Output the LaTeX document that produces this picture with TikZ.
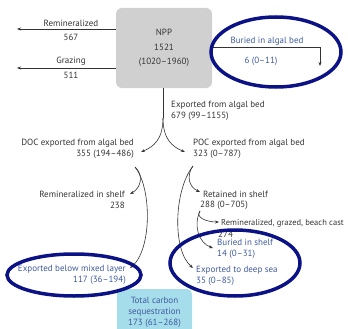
\documentclass[tikz,border=0pt]{standalone}
\usepackage{fontspec}
\setmainfont{PT Sans}
\usepackage{xcolor}
\usetikzlibrary{arrows.meta}
\definecolor{txtgray}{HTML}{333333}
\definecolor{txtblue}{HTML}{3F5A9E}
\definecolor{ringblue}{HTML}{0B1285}
\definecolor{boxgray}{HTML}{D0D0D0}
\definecolor{boxcyan}{HTML}{A6DDEA}

\begin{document}
\begin{tikzpicture}[x=1pt,y=-1pt,>={Stealth[length=4pt,width=3pt]},
  every node/.style={font=\fontsize{9}{11}\selectfont,text=txtgray,inner sep=0pt},
  flow/.style={->,draw=txtgray,line width=0.6pt},
  ring/.style={draw=ringblue,line width=3.5pt},
  hot/.style={text=txtblue}]
\useasboundingbox (0,0) rectangle (348,329);
% source box
\node[fill=boxgray,rounded corners=6pt,minimum width=96pt,minimum height=80pt,
  align=center,font=\fontsize{9}{14.5}\selectfont] (npp) at (164,48) {NPP\\1521\\(1020--1960)};
% losses to the left
\coordinate (reminTip) at (17,29);
\coordinate (grazTip) at (17,68);
\draw[flow](npp.west |- reminTip)--(reminTip);
\draw[flow](npp.west |- grazTip)--(grazTip);
\node (remin) at (71,23) {Remineralized};
\node (reminVal) at (71,37) {567};
\node (graz) at (71,61) {Grazing};
\node (grazVal) at (71,75) {511};
% burial in the bed
\coordinate (algTip) at (320,66);
\draw[flow]([yshift=1pt]npp.east)-|(algTip);
\node[hot] (alg) at (267,41) {Buried in algal bed};
\node[hot] (algVal) at (261,61) {6 (0--11)};
% export split
\coordinate (split) at (163,118);
\coordinate (docTip) at (141,152);
\coordinate (pocTip) at (185,152);
\draw[txtgray,line width=0.6pt](npp.south -| split)--(split);
\draw[flow](split)..controls(163,140)and(153,147)..(docTip);
\draw[flow](split)..controls(163,140)and(173,147)..(pocTip);
\node[anchor=west,align=left] (exp) at (171,111) {Exported from algal bed\\679 (99--1155)};
\node[anchor=east,align=right] (doc) at (134,149) {DOC exported from algal bed\\355 (194--486)};
\node[anchor=west,align=left] (poc) at (193,148.5) {POC exported from algal bed\\323 (0--787)};
% DOC branch
\coordinate (docOut) at (135,167);
\coordinate (shelfTip) at (130,194);
\coordinate (belowTip) at (130,268);
\draw[flow](docOut)..controls(144,175)and(141,188)..(shelfTip);
\draw[flow](docOut)..controls(152,188)and(152,250)..(belowTip);
\node[anchor=east] (remShelf) at (125,194) {Remineralized in shelf};
\node[anchor=east] (remShelfVal) at (125,205) {238};
\node[anchor=east,align=right,hot] (below) at (126,275) {Exported below mixed layer\\117 (36--194)};
% POC branch
\coordinate (pocOut) at (193,166);
\coordinate (retTip) at (200,192);
\coordinate (deepTip) at (193,268);
\draw[flow](pocOut)..controls(186,176)and(189,187)..(retTip);
\draw[flow](pocOut)..controls(174,190)and(172,250)..(deepTip);
\node[anchor=west] (ret) at (203,194) {Retained in shelf};
\node[anchor=west] (retVal) at (200,205) {288 (0--705)};
\node[anchor=west,align=left,hot] (deep) at (196,275.5) {Exported to deep sea\\35 (0--85)};
% retained split
\coordinate (retOut) at (200,211);
\coordinate (castTip) at (219,222);
\coordinate (shelfBurTip) at (213,248);
\draw[flow](retOut)..controls(195,217)and(206,222)..(castTip);
\draw[flow](retOut)..controls(193,226)and(199,243)..(shelfBurTip);
\node[anchor=west,font=\fontsize{8.5}{11}\selectfont] (cast) at (221,223) {Remineralized, grazed, beach cast};
\node[anchor=west] (castVal) at (218,234) {274};
\node[anchor=west,align=left,hot] (shelfBur) at (217,248.5) {Buried in shelf\\14 (0--31)};
% total
\node[fill=boxcyan,rounded corners=5pt,minimum width=75pt,minimum height=46pt,
  align=center,hot] (total) at (154.5,312) {Total carbon\\sequestration\\173 (61--268)};
% highlight rings
\draw[ring](276,52)ellipse[x radius=65,y radius=35];
\draw[ring](74,275)ellipse[x radius=67,y radius=21];
\draw[ring](235,263)ellipse[x radius=65,y radius=33];
\end{tikzpicture}
\end{document}
